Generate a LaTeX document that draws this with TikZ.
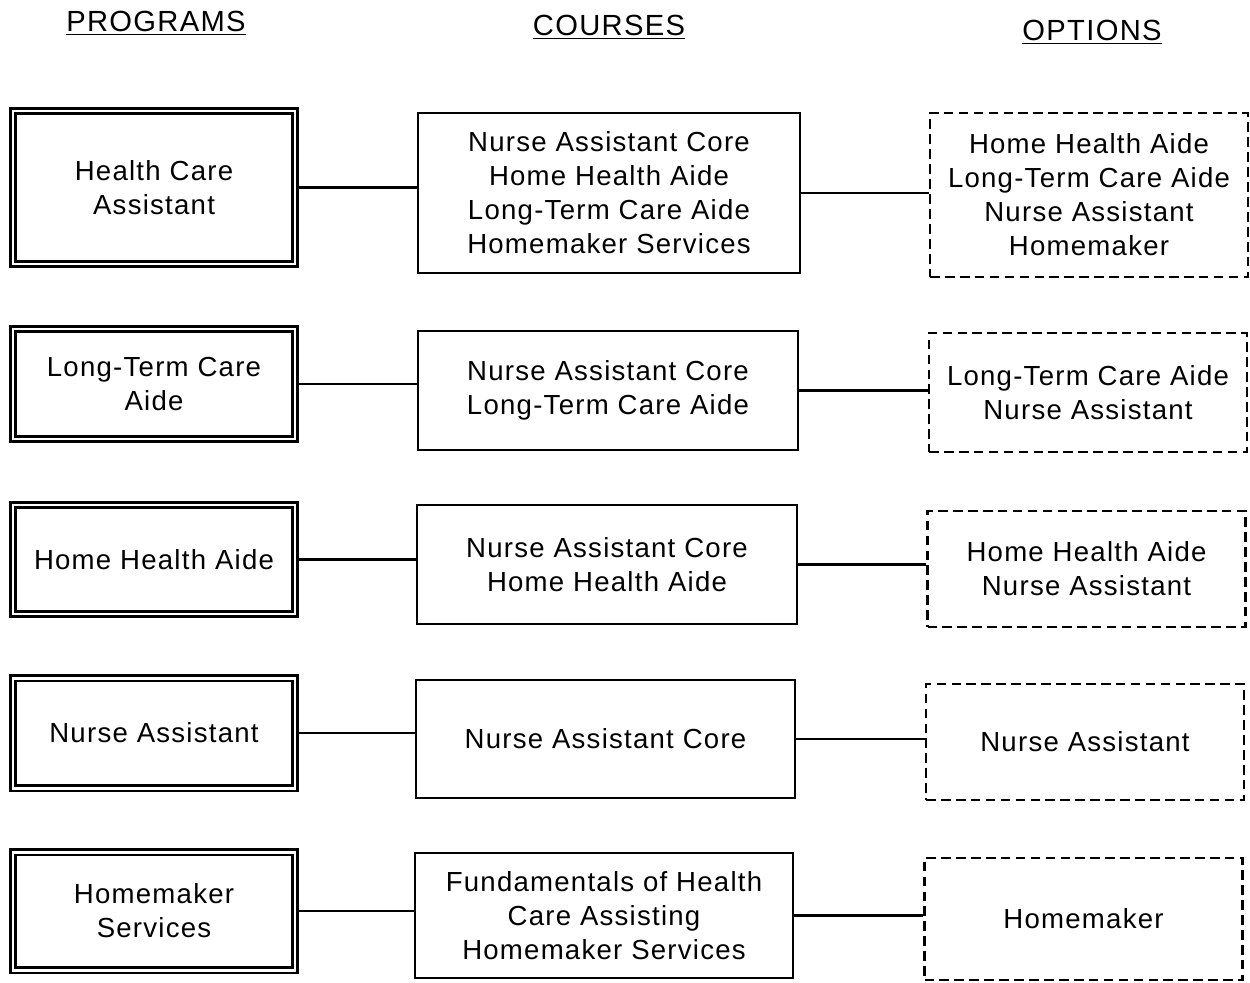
\documentclass[tikz,border=0pt]{standalone}
\usepackage{fontspec}
\setmainfont[LetterSpace=4.5]{Liberation Sans}
\begin{document}
\begin{tikzpicture}[x=0.02cm, y=-0.02cm, line join=miter,
	font=\fontsize{15.7}{19.4}\selectfont,
	prog/.style={draw, double, line width=1.25pt, double distance=1.7pt, align=center, inner sep=0pt, minimum width=282*0.02cm},
	course/.style={draw, line width=1.2pt, align=center, inner sep=0pt},
	option/.style={draw, line width=1.2pt, dash pattern=on 5.5pt off 3pt, align=center, inner sep=0pt},
	head/.style={anchor=base, font=\fontsize{16.6}{20}\selectfont}]
	\useasboundingbox (0,0) rectangle (1250,983);
	% headings
	\node[head] (hprog) at (156,32) {\underline{PROGRAMS}};
	\node[head] (hcour) at (609,36) {\underline{COURSES}};
	\node[head] (hopt) at (1092,41) {\underline{OPTIONS}};
	% programs
	\node[prog, minimum height=153*0.02cm] (p1) at (154,187.5) {Health Care\\Assistant};
	\node[prog, minimum height=110*0.02cm] (p2) at (154,384) {Long-Term Care\\Aide};
	\node[prog, minimum height=109*0.02cm] (p3) at (154,559.5) {Home Health Aide};
	\node[prog, minimum height=110*0.02cm] (p4) at (154,733) {Nurse Assistant};
	\node[prog, minimum height=118*0.02cm] (p5) at (154,911) {Homemaker\\Services};
	% courses
	\node[course, minimum width=382*0.02cm, minimum height=160*0.02cm] (c1) at (609,193) {Nurse Assistant Core\\Home Health Aide\\Long-Term Care Aide\\Homemaker Services};
	\node[course, minimum width=380*0.02cm, minimum height=119*0.02cm] (c2) at (608,390.5) {Nurse Assistant Core\\Long-Term Care Aide};
	\node[course, minimum width=380*0.02cm, minimum height=119*0.02cm] (c3) at (607,564.5) {Nurse Assistant Core\\Home Health Aide};
	\node[course, minimum width=379*0.02cm, minimum height=118*0.02cm] (c4) at (605.5,739) {Nurse Assistant Core};
	\node[course, minimum width=378*0.02cm, minimum height=125*0.02cm] (c5) at (604,915.5) {Fundamentals of Health\\Care Assisting\\Homemaker Services};
	% options
	\node[option, minimum width=318*0.02cm, minimum height=164*0.02cm] (o1) at (1089,195) {Home Health Aide\\Long-Term Care Aide\\Nurse Assistant\\Homemaker};
	\node[option, minimum width=318*0.02cm, minimum height=119*0.02cm] (o2) at (1088,392.5) {Long-Term Care Aide\\Nurse Assistant};
	\node[option, minimum width=318*0.02cm, minimum height=116*0.02cm] (o3) at (1086.5,569) {Home Health Aide\\Nurse Assistant};
	\node[option, minimum width=318*0.02cm, minimum height=116*0.02cm] (o4) at (1085,742) {Nurse Assistant};
	\node[option, minimum width=318*0.02cm, minimum height=122*0.02cm] (o5) at (1083.5,919) {Homemaker};
	% connectors
	\foreach \i in {1,...,5}{
		\draw[line width=1.2pt] (p\i.east) -- (p\i.east -| c\i.west);
		\draw[line width=1.2pt] (c\i.east) -- (c\i.east -| o\i.west);
	}
\end{tikzpicture}
\end{document}
